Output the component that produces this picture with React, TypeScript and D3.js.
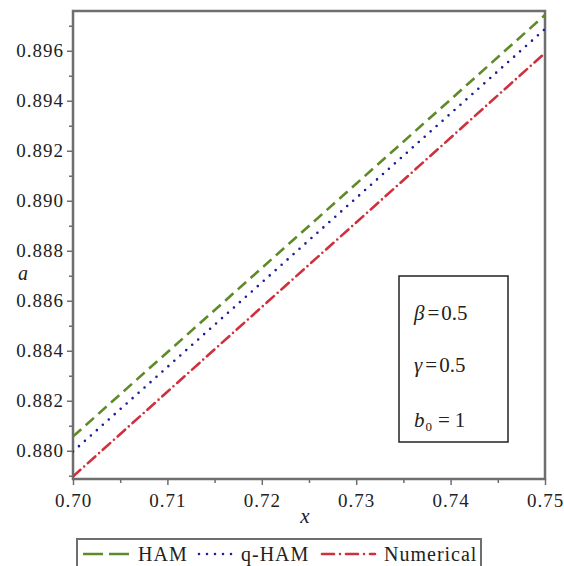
import React, { useEffect, useRef } from "react";
import * as d3 from "d3";

// values
const xValues = [0.7, 0.71, 0.72, 0.73, 0.74, 0.75];
const hamValues = [0.88057, 0.88394, 0.88731, 0.89068, 0.89405, 0.89743];
const qhamValues = [0.87997, 0.88335, 0.88673, 0.89011, 0.89349, 0.89687];
const numericalValues = [0.87897, 0.88236, 0.88575, 0.88913, 0.89252, 0.89591];
const yTicks = [0.88, 0.882, 0.884, 0.886, 0.888, 0.89, 0.892, 0.894, 0.896];
const xTicks = [0.7, 0.71, 0.72, 0.73, 0.74, 0.75];
const seriesNames = ["HAM", "q-HAM", "Numerical"];

const App = () => {
  const svgRef = useRef<SVGSVGElement>(null);

  useEffect(() => {
    const W = 564;
    const H = 566;
    const margin = { top: 11, right: 19, bottom: 87, left: 73 };
    const width = W - margin.left - margin.right;
    const height = H - margin.top - margin.bottom;
    const font = "Liberation Serif, serif";

    const svg = d3
      .select(svgRef.current)
      .attr("width", W)
      .attr("height", H)
      .style("font-family", font);
    svg.selectAll("*").remove();

    const g = svg
      .append("g")
      .attr("transform", `translate(${margin.left},${margin.top})`);

    const x = d3.scaleLinear().domain([0.7, 0.75]).range([0, width]);
    const y = d3.scaleLinear().domain([0.87887, 0.89759]).range([height, 0]);

    const axisColor = "#6e6e6e";

    // minor ticks
    const yMinor = d3.range(0.879, 0.8975, 0.002);
    g.append("g")
      .call(d3.axisLeft(y).tickValues(yMinor).tickSize(4).tickFormat(() => ""))
      .call((s) => s.select(".domain").remove())
      .selectAll("line")
      .attr("stroke", axisColor)
      .attr("stroke-width", 1.5);
    const xMinor = d3.range(0.705, 0.75, 0.01);
    g.append("g")
      .attr("transform", `translate(0,${height})`)
      .call(d3.axisBottom(x).tickValues(xMinor).tickSize(4).tickFormat(() => ""))
      .call((s) => s.select(".domain").remove())
      .selectAll("line")
      .attr("stroke", axisColor)
      .attr("stroke-width", 1.5);

    // major ticks y
    const yAxis = g
      .append("g")
      .call(
        d3
          .axisLeft(y)
          .tickValues(yTicks)
          .tickSize(6)
          .tickPadding(3)
          .tickFormat(d3.format(".3f"))
      );
    yAxis.attr("font-family", null).attr("font-size", null);
    yAxis.select(".domain").remove();
    yAxis.selectAll("line").attr("stroke", axisColor).attr("stroke-width", 1.5);
    yAxis
      .selectAll("text")
      .style("font-family", font)
      .style("font-size", "19px")
      .style("letter-spacing", "1px")
      .attr("fill", "#222");

    // major ticks x
    const xAxis = g
      .append("g")
      .attr("transform", `translate(0,${height})`)
      .call(
        d3
          .axisBottom(x)
          .tickValues(xTicks)
          .tickSize(6)
          .tickPadding(9)
          .tickFormat(d3.format(".2f"))
      );
    xAxis.attr("font-family", null).attr("font-size", null);
    xAxis.select(".domain").remove();
    xAxis.selectAll("line").attr("stroke", axisColor).attr("stroke-width", 1.5);
    xAxis
      .selectAll("text")
      .style("font-family", font)
      .style("font-size", "19px")
      .style("letter-spacing", "1px")
      .attr("fill", "#222");

    // plot frame
    g.append("rect")
      .attr("x", 0)
      .attr("y", 0)
      .attr("width", width)
      .attr("height", height)
      .attr("fill", "none")
      .attr("stroke", axisColor)
      .attr("stroke-width", 2.5);

    // axis labels
    svg
      .append("text")
      .attr("x", 23)
      .attr("y", 280)
      .attr("text-anchor", "middle")
      .attr("font-style", "italic")
      .attr("font-size", 20)
      .attr("fill", "#222")
      .text("a");
    svg
      .append("text")
      .attr("x", 305)
      .attr("y", 523)
      .attr("text-anchor", "middle")
      .attr("font-style", "italic")
      .attr("font-size", 21)
      .attr("fill", "#222")
      .text("x");

    // lines
    const styles = [
      { values: hamValues, color: "#5e8a28", dash: "11,6", cap: "butt" },
      { values: qhamValues, color: "#1c1c9c", dash: "0,8", cap: "round" },
      { values: numericalValues, color: "#d0303c", dash: "10,5,0,5", cap: "round" },
    ];
    const line = d3
      .line<number>()
      .x((_, i) => x(xValues[i]))
      .y((d) => y(d));

    const defs = svg.append("defs");
    defs
      .append("clipPath")
      .attr("id", "plotclip")
      .append("rect")
      .attr("width", width)
      .attr("height", height);

    const lines = g.append("g").attr("clip-path", "url(#plotclip)");
    styles.forEach((s) => {
      lines
        .append("path")
        .datum(s.values)
        .attr("d", line)
        .attr("fill", "none")
        .attr("stroke", s.color)
        .attr("stroke-width", 2.6)
        .attr("stroke-dasharray", s.dash)
        .attr("stroke-linecap", s.cap);
    });

    // parameter box
    const pb = svg.append("g");
    pb.append("rect")
      .attr("x", 399)
      .attr("y", 276)
      .attr("width", 109)
      .attr("height", 166)
      .attr("fill", "white")
      .attr("stroke", "#222")
      .attr("stroke-width", 1.5);
    const params = [
      { sym: "β", sub: "", val: "0.5", yy: 320 },
      { sym: "γ", sub: "", val: "0.5", yy: 372 },
      { sym: "b", sub: "0", val: "1", yy: 427 },
    ];
    params.forEach((p) => {
      const t = pb
        .append("text")
        .attr("x", 414)
        .attr("y", p.yy)
        .attr("font-size", 21)
        .attr("fill", "#222");
      t.append("tspan").attr("font-style", "italic").text(p.sym);
      if (p.sub) {
        t.append("tspan").attr("font-size", 13).attr("dx", 1).attr("dy", 4).text(p.sub);
        t.append("tspan").attr("dx", 6).attr("dy", -4).text("=");
        t.append("tspan").attr("dx", 5).text(p.val);
      } else {
        t.append("tspan").attr("dx", 3).text("=");
        t.append("tspan").attr("dx", 2).text(p.val);
      }
    });

    // legend
    const lg = svg.append("g");
    lg.append("rect")
      .attr("x", 77)
      .attr("y", 539)
      .attr("width", 404)
      .attr("height", 40)
      .attr("fill", "white")
      .attr("stroke", axisColor)
      .attr("stroke-width", 2);
    const legendItems = [
      { x1: 83, x2: 132, tx: 138 },
      { x1: 199, x2: 238, tx: 241 },
      { x1: 322, x2: 375, tx: 384 },
    ];
    legendItems.forEach((it, i) => {
      lg.append("line")
        .attr("x1", it.x1)
        .attr("x2", it.x2)
        .attr("y1", 554)
        .attr("y2", 554)
        .attr("stroke", styles[i].color)
        .attr("stroke-width", 2.6)
        .attr("stroke-dasharray", i === 0 ? "20,6" : i === 1 ? "0,8" : "12,6,0,6")
        .attr("stroke-linecap", styles[i].cap);
      lg.append("text")
        .attr("x", it.tx)
        .attr("y", 561)
        .attr("font-size", 20)
        .attr("letter-spacing", 1)
        .attr("fill", "#222")
        .text(seriesNames[i]);
    });
  }, []);

  return (
    <div>
      <svg
        ref={svgRef}
        style={{ position: "absolute", left: 0, top: 0, background: "white" }}
      ></svg>
    </div>
  );
};

export default App;
